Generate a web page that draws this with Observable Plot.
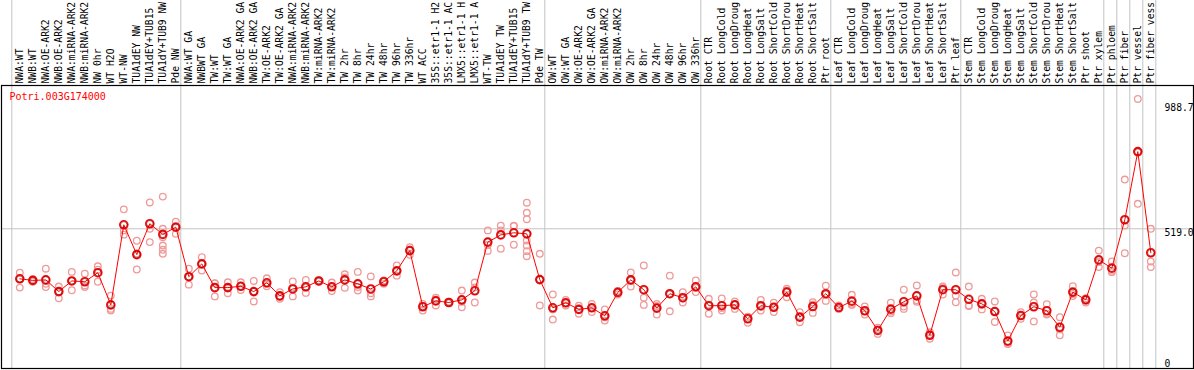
<!DOCTYPE html>
<html>
<head>
<meta charset="utf-8">
<script src="https://cdn.jsdelivr.net/npm/d3@7"></script>
<script src="https://cdn.jsdelivr.net/npm/@observablehq/plot@0.6"></script>
<style>
  html, body { margin: 0; padding: 0; background: #fff; }
  #chart svg { display: block; }
</style>
</head>
<body>
<div id="chart"></div>
<script>
const geneId = "Potri.003G174000";

const samples = [
  "NWA:WT", "NWB:WT", "NWA:OE-ARK2", "NWB:OE-ARK2", "NWA:miRNA-ARK2", "NWB:miRNA-ARK2",
  "NW 0hr", "WT H2O", "WT-NW", "TUA1dEY NW", "TUA1dEY+TUB15 NW", "TUA1dY+TUB9 NW", "Pde NW",
  "NWA:WT GA", "NWBWT GA", "TW:WT", "TW:WT GA", "NWA:OE-ARK2 GA", "NWB:OE-ARK2 GA",
  "TW:OE-ARK2", "TW:OE-ARK2 GA", "NWA:miRNA-ARK2 GA", "NWB:miRNA-ARK2 GA", "TW:miRNA-ARK2",
  "TW:miRNA-ARK2 GA", "TW 2hr", "TW 8hr", "TW 24hr", "TW 48hr", "TW 96hr", "TW 336hr", "WT ACC",
  "35S::etr1-1 H2O", "35S::etr1-1 ACC", "LMX5::etr1-1 H2O", "LMX5::etr1-1 ACC", "WT-TW",
  "TUA1dEY TW", "TUA1dEY+TUB15 TW", "TUA1dY+TUB9 TW", "Pde TW",
  "OW:WT", "OW:WT GA", "OW:OE-ARK2", "OW:OE-ARK2 GA", "OW:miRNA-ARK2", "OW:miRNA-ARK2 GA",
  "OW 2hr", "OW 8hr", "OW 24hr", "OW 48hr", "OW 96hr", "OW 336hr",
  "Root CTR", "Root LongCold", "Root LongDrought", "Root LongHeat", "Root LongSalt",
  "Root ShortCold", "Root ShortDrought", "Root ShortHeat", "Root ShortSalt", "Ptr root",
  "Leaf CTR", "Leaf LongCold", "Leaf LongDrought", "Leaf LongHeat", "Leaf LongSalt",
  "Leaf ShortCold", "Leaf ShortDrought", "Leaf ShortHeat", "Leaf ShortSalt", "Ptr leaf",
  "Stem CTR", "Stem LongCold", "Stem LongDrought", "Stem LongHeat", "Stem LongSalt",
  "Stem ShortCold", "Stem ShortDrought", "Stem ShortHeat", "Stem ShortSalt", "Ptr shoot",
  "Ptr xylem", "Ptr phloem", "Ptr fiber", "Ptr vessel", "Ptr fiber vessel"
];

// the sample labels are shown cut to this many characters, as in the original
const labelMaxChars = 14;

const means = [
  331, 325, 327, 283, 323, 320, 354, 233, 534, 422, 538, 498, 525,
  339, 387, 298, 298, 303, 283, 316, 267, 293, 301, 323, 301, 327, 312, 293, 320, 361, 437,
  226, 248, 242, 252, 286, 469, 496, 504, 500, 328,
  222, 241, 216, 222, 192, 280, 327, 290, 221, 275, 260, 301,
  230, 230, 233, 181, 230, 224, 281, 187, 227, 275,
  223, 247, 211, 137, 217, 245, 267, 119, 290, 290,
  254, 237, 208, 97, 193, 226, 211, 149, 281, 252, 402,
  371, 553, 809, 429
];

const replicates = [
  [354, 298, 331], [325, 320, 330], [369, 300, 312], [302, 283, 258], [357, 288, 323],
  [350, 306, 300], [378, 365, 320], [268, 218, 212], [592, 513, 497], [474, 366, 426],
  [618, 519, 469], [640, 519, 487, 456, 440, 425], [546, 500, 529],
  [369, 309, 339], [412, 362, 387], [315, 265, 314], [318, 277, 298], [318, 289, 303],
  [323, 246, 283], [333, 303, 312], [281, 256, 264], [321, 265, 298], [327, 278, 298],
  [320, 323, 326], [317, 285, 301], [348, 297, 336], [357, 287, 300], [340, 277, 265],
  [312, 323, 325], [381, 343, 361], [450, 421, 440], [237, 212, 229], [260, 231, 253],
  [245, 240, 242], [287, 245, 224], [317, 242, 299], [513, 436, 458], [531, 513, 444],
  [531, 529, 459], [617, 579, 555, 475, 456, 435, 416], [425, 231, 328],
  [272, 178, 216], [252, 231, 240], [200, 230, 216], [237, 206, 222], [216, 174, 186],
  [285, 272, 283], [355, 302, 324], [381, 260, 233], [237, 197, 229], [343, 209, 273],
  [281, 242, 257], [325, 281, 297],
  [256, 200, 234], [257, 212, 221], [246, 218, 235], [189, 166, 188], [252, 212, 226],
  [241, 206, 225], [287, 262, 294], [206, 168, 187], [243, 203, 235], [305, 248, 272],
  [231, 218, 220], [271, 233, 237], [227, 197, 209], [147, 124, 140], [241, 202, 208],
  [290, 227, 218], [306, 250, 245], [130, 106, 121], [302, 272, 296], [355, 268, 243],
  [302, 231, 229], [256, 216, 239], [246, 169, 209], [118, 87, 86], [206, 181, 192],
  [272, 242, 171], [236, 200, 197], [187, 119, 141], [303, 266, 274], [256, 242, 258],
  [437, 375, 394],
  [396, 356, 361], [704, 531, 427], [1007, 613, 806], [519, 396, 375]
];

// index of the first sample of each group (plus the end)
const groupStarts = [0, 13, 41, 53, 63, 73, 84, 85, 86, 87, 88];

const yTopTicks = [988.7, 519.0];
const yBottomTicks = [0];
const gridValues = [519.0];

const meanData = means.map((v, i) => ({i, v}));
const repData = replicates.flatMap((arr, i) => arr.map(v => ({i, v})));
const labelData = samples.map((s, i) => ({i, s: s.slice(0, labelMaxChars)}));

const font = "'DejaVu Sans Mono', 'Liberation Mono', monospace";

const chart = Plot.plot({
  width: 1194,
  height: 370,
  marginTop: 85,
  marginBottom: 2,
  marginLeft: 1,
  marginRight: 1,
  x: {domain: [0, 87], range: [19.3, 1150.3], axis: null},
  y: {domain: [0, 988.7], range: [366.4, 103.3], axis: null},
  style: {fontFamily: font, fontSize: "10px", background: "white", color: "black"},
  marks: [
    Plot.ruleY(gridValues, {stroke: "#c4c4c4", strokeWidth: 1}),
    Plot.ruleX(groupStarts, {x: d => d - 8 / 13, stroke: "#c4c4c4", strokeWidth: 1, insetTop: -85}),
    Plot.frame({stroke: "black", strokeWidth: 1.2}),
    Plot.text(labelData, {
      x: "i", text: "s", frameAnchor: "top", rotate: -90,
      textAnchor: "start", lineAnchor: "middle", dy: -2,
      fontFamily: font, fontSize: 9.7, fill: "black"
    }),
    Plot.text([geneId], {
      frameAnchor: "top-left", textAnchor: "start", lineAnchor: "top",
      dx: 8, dy: 7, fill: "red", fontFamily: font, fontSize: 10
    }),
    Plot.text(yTopTicks, {
      y: d => d, text: d => d.toFixed(1), frameAnchor: "right",
      textAnchor: "start", lineAnchor: "top", dx: -29,
      fill: "black", fontFamily: font, fontSize: 9.7
    }),
    Plot.text(yBottomTicks, {
      y: d => d, text: d => String(d), frameAnchor: "right",
      textAnchor: "start", lineAnchor: "bottom", dx: -29,
      fill: "black", fontFamily: font, fontSize: 9.7
    }),
    Plot.dot(repData, {x: "i", y: "v", r: 3.3, stroke: "#ef9a9a", strokeWidth: 1.3, fill: "none"}),
    Plot.line(meanData, {x: "i", y: "v", stroke: "red", strokeWidth: 1}),
    Plot.dot(meanData, {x: "i", y: "v", r: 4, stroke: "red", strokeWidth: 1.6, fill: "none"}),
    Plot.dot(meanData, {x: "i", y: "v", r: 3.2, stroke: "#600", strokeWidth: 0.6, fill: "none"})
  ]
});

document.getElementById("chart").appendChild(chart);
</script>
</body>
</html>
